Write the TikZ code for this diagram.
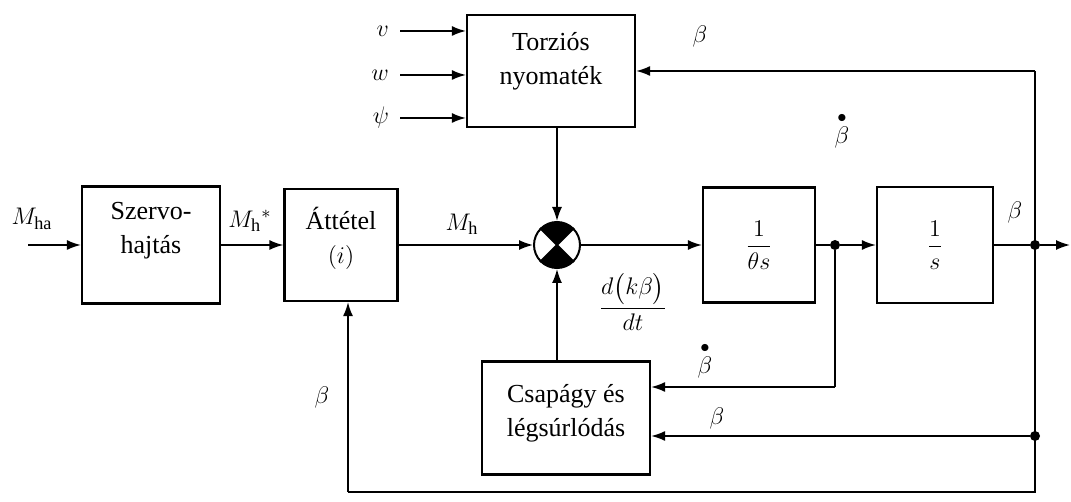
\documentclass[tikz,border=0pt]{standalone}
\usepackage{amsmath}
\usepackage{amssymb}
\usepackage{fontspec}
\setmainfont{Liberation Serif}
\usepackage{tikz}
\usetikzlibrary{arrows.meta}
\newcommand{\bpont}{\overset{\bullet}{\beta}}

\begin{document}
\begin{tikzpicture}[x=0.5pt,y=-0.5pt,font=\fontsize{13}{17}\selectfont,
  blokk/.style={draw,line width=1.1pt,inner sep=0pt},
  szoveg/.style={align=center},
  jel/.style={line width=0.8pt,-{Latex[length=7pt,width=5pt]}},
  vonal/.style={line width=0.8pt},
  pont/.style={circle,fill,inner sep=0pt,minimum size=5pt}]
\useasboundingbox (0,0) rectangle (1071,502);

\node[blokk,minimum width=69pt,minimum height=58.5pt,label={[szoveg,yshift=7pt]center:Szervo-\\hajtás}] (szervo) at (151,245) {};
\node[blokk,minimum width=56.5pt,minimum height=56pt,label={[szoveg,yshift=3.5pt]center:Áttétel\\$(i)$}] (attetel) at (341,245) {};
\node[blokk,minimum width=84pt,minimum height=56pt,label={[szoveg,yshift=5pt]center:Torziós\\nyomaték}] (torzio) at (551,71) {};
\node[circle,draw,line width=1pt,minimum size=23pt,inner sep=0pt] (sum) at (557,245) {};
\node[blokk,minimum width=56pt,minimum height=57.5pt] (theta) at (759,245) {$\dfrac{1}{\theta s}$};
\node[blokk,minimum width=58pt,minimum height=58pt] (integ) at (935,245) {$\dfrac{1}{s}$};
\node[blokk,minimum width=84pt,minimum height=56.5pt,label={[szoveg,yshift=2.5pt]center:Csapágy és\\légsúrlódás}] (csap) at (566,418) {};

\fill (sum.center) -- ++(45:11.5pt) arc[start angle=45,end angle=135,radius=11.5pt] -- cycle;
\fill (sum.center) -- ++(225:11.5pt) arc[start angle=225,end angle=315,radius=11.5pt] -- cycle;
\draw[line width=1pt] (sum.45) -- (sum.225) (sum.135) -- (sum.315);

\node[pont] (b1) at (835,245) {};
\node[pont] (b2) at (1035,245) {};
\node[pont] (b3) at (1035,436) {};
\coordinate (be) at (28,245);
\coordinate (ki) at (1070,245);
\coordinate (tf) at (1035,71);
\coordinate (af) at (1035,492);
\coordinate (bf) at (348,492);
\coordinate (df) at (835,387);
\coordinate (bv) at (400,31);
\coordinate (bw) at (400,75);
\coordinate (bpsi) at (400,118);

\draw[jel] (be) -- (szervo);
\draw[jel] (szervo) -- (attetel);
\draw[jel] (attetel) -- (sum);
\draw[jel] (sum) -- (theta);
\draw[vonal] (theta) -- (b1);
\draw[jel] (b1) -- (integ);
\draw[vonal] (integ) -- (b2);
\draw[jel] (b2) -- (ki);
\draw[jel] (bv) -- (bv -| torzio.west);
\draw[jel] (bw) -- (bw -| torzio.west);
\draw[jel] (bpsi) -- (bpsi -| torzio.west);
\draw[jel] (torzio.south -| sum) -- (sum);
\draw[jel] (csap.north -| sum) -- (sum);
\draw[jel] (tf) -- (torzio.east);
\draw[vonal] (tf) -- (af) -- (bf);
\draw[jel] (bf) -- (bf |- attetel.south);
\draw[vonal] (b1) -- (df);
\draw[jel] (df) -- (df -| csap.east);
\draw[jel] (b3) -- (b3 -| csap.east);

\node[left=2pt] (lv) at (bv) {$v$};
\node[left=2pt] (lw) at (bw) {$w$};
\node[left=2pt] (lpsi) at (bpsi) {$\psi$};
\node (mha) at (32,219) {$M_{\mathrm{ha}}$};
\node (mhs) at (250,221) {$M_{\mathrm{h}}{}^{*}$};
\node (mh) at (462,224) {$M_{\mathrm{h}}$};
\node (dkb) at (633,302) {$\dfrac{d\bigl(k\beta\bigr)}{dt}$};
\node (bfel) at (700,37) {$\beta$};
\node (bdfel) at (842,130) {$\bpont$};
\node (bjobb) at (1015,213) {$\beta$};
\node (bbal) at (322,397) {$\beta$};
\node (bdalso) at (705,360) {$\bpont$};
\node (balso) at (717,418) {$\beta$};
\end{tikzpicture}
\end{document}
